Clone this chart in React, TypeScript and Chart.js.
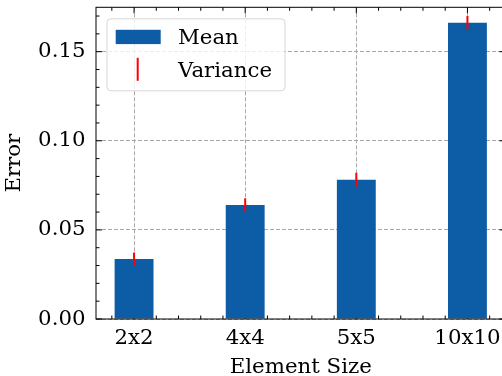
import React, { useEffect, useRef } from 'react';
import { Chart, registerables } from 'chart.js';

Chart.register(...registerables);

// ---- data ----
const categories = ['2x2', '4x4', '5x5', '10x10'];
const meanValues = [0.0337, 0.064, 0.0782, 0.1663];
const varianceValues = [0.0036, 0.0037, 0.0039, 0.0037];
const yTickValues = [0, 0.05, 0.1, 0.15];
const seriesLabels = ['Mean', 'Variance'];
const xTitle = 'Element Size';
const yTitle = 'Error';
const yMin = 0;
const yMax = 0.1749;
const xMin = -0.3425;
const xMax = 3.3425;

const FONT = "'DejaVu Serif', 'Liberation Serif', serif";
const FS = 21.3;
const BLUE = '#0C5DA5';
const RED = '#FF0000';

const framePlugin = {
  id: 'frame',
  beforeDatasetsDraw(chart: any) {
    const { ctx, chartArea: a, scales } = chart;
    const xs = scales.x;
    const ys = scales.y;
    ctx.save();
    ctx.strokeStyle = '#000';
    ctx.lineWidth = 1;
    ctx.beginPath();
    const nY = Math.floor(yMax / 0.01 + 1e-6);
    for (let k = 0; k <= nY; k++) {
      const v = k * 0.01;
      const len = k % 5 === 0 ? 6 : 3.5;
      const py = ys.getPixelForValue(v);
      ctx.moveTo(a.left, py);
      ctx.lineTo(a.left + len, py);
      ctx.moveTo(a.right, py);
      ctx.lineTo(a.right - len, py);
    }
    const k0 = Math.ceil(xMin / 0.2 - 1e-6);
    const k1 = Math.floor(xMax / 0.2 + 1e-6);
    for (let k = k0; k <= k1; k++) {
      const v = k * 0.2;
      const len = k % 5 === 0 ? 6 : 3.5;
      const px = xs.getPixelForValue(v);
      ctx.moveTo(px, a.bottom);
      ctx.lineTo(px, a.bottom - len);
      ctx.moveTo(px, a.top);
      ctx.lineTo(px, a.top + len);
    }
    ctx.stroke();
    ctx.restore();
  },
  afterDatasetsDraw(chart: any) {
    const { ctx, chartArea: a } = chart;
    ctx.save();
    ctx.strokeStyle = '#000';
    ctx.lineWidth = 1;
    ctx.strokeRect(a.left, a.top, a.right - a.left, a.bottom - a.top);

    const lx = a.left + 11;
    const ly = a.top + 11.5;
    const lw = 178;
    const lh = 72;
    const r = 4;
    ctx.beginPath();
    ctx.moveTo(lx + r, ly);
    ctx.lineTo(lx + lw - r, ly);
    ctx.quadraticCurveTo(lx + lw, ly, lx + lw, ly + r);
    ctx.lineTo(lx + lw, ly + lh - r);
    ctx.quadraticCurveTo(lx + lw, ly + lh, lx + lw - r, ly + lh);
    ctx.lineTo(lx + r, ly + lh);
    ctx.quadraticCurveTo(lx, ly + lh, lx, ly + lh - r);
    ctx.lineTo(lx, ly + r);
    ctx.quadraticCurveTo(lx, ly, lx + r, ly);
    ctx.closePath();
    ctx.fillStyle = 'rgba(255,255,255,0.8)';
    ctx.fill();
    ctx.strokeStyle = 'rgba(204,204,204,0.8)';
    ctx.lineWidth = 1;
    ctx.stroke();

    ctx.fillStyle = BLUE;
    ctx.fillRect(lx + 8.7, ly + 11, 45, 14.3);
    ctx.strokeStyle = RED;
    ctx.lineWidth = 2;
    ctx.beginPath();
    ctx.moveTo(lx + 30.7, ly + 39);
    ctx.lineTo(lx + 30.7, ly + 62);
    ctx.stroke();

    ctx.fillStyle = '#000';
    ctx.font = `${FS}px ${FONT}`;
    ctx.textBaseline = 'alphabetic';
    ctx.textAlign = 'left';
    ctx.fillText(seriesLabels[0], lx + 71, ly + 25.3);
    ctx.fillText(seriesLabels[1], lx + 71, ly + 58.3);
    ctx.restore();
  },
};

export default function App() {
  const ref = useRef<HTMLCanvasElement | null>(null);

  useEffect(() => {
    if (!ref.current) return;
    const chart = new Chart(ref.current, {
      type: 'bar',
      data: {
        datasets: [
          {
            label: seriesLabels[0],
            data: categories.map((_, i) => ({ x: i, y: meanValues[i] })),
            backgroundColor: BLUE,
            borderWidth: 0,
            grouped: false,
            categoryPercentage: 1,
            barPercentage: 0.35,
            order: 2,
          } as any,
          {
            label: seriesLabels[1],
            data: categories.map((_, i) => ({
              x: i,
              y: [meanValues[i] - varianceValues[i], meanValues[i] + varianceValues[i]],
            })),
            backgroundColor: RED,
            borderWidth: 0,
            grouped: false,
            categoryPercentage: 1,
            barPercentage: 0.35,
            maxBarThickness: 2,
            order: 1,
          } as any,
        ],
      },
      options: {
        responsive: false,
        maintainAspectRatio: false,
        animation: false,
        layout: { padding: { left: 0, top: 7.3, right: 6.5, bottom: 0 } },
        plugins: {
          legend: { display: false },
          tooltip: { enabled: false },
        },
        scales: {
          x: {
            type: 'linear',
            min: xMin,
            max: xMax,
            offset: false,
            afterBuildTicks: (scale: any) => {
              scale.ticks = categories.map((_, i) => ({ value: i }));
            },
            afterFit: (scale: any) => {
              scale.height = 57;
              scale.paddingLeft = 0;
              scale.paddingRight = 0;
              scale.paddingTop = 0;
              scale.paddingBottom = 0;
            },
            ticks: {
              autoSkip: false,
              maxRotation: 0,
              minRotation: 0,
              padding: 6.5,
              color: '#000',
              font: { family: FONT, size: FS },
              callback: (v: any) => categories[Math.round(Number(v))] ?? '',
            },
            grid: {
              offset: false,
              color: '#a8a8a8',
              lineWidth: 1,
              drawTicks: false,
              borderDash: [4, 2],
            } as any,
            border: { display: false, dash: [4, 2] },
            title: {
              display: true,
              text: xTitle,
              color: '#000',
              font: { family: FONT, size: FS, lineHeight: 0.8 },
              padding: { top: 0, bottom: 0 },
            },
          },
          y: {
            type: 'linear',
            min: yMin,
            max: yMax,
            afterBuildTicks: (scale: any) => {
              scale.ticks = yTickValues.map((v) => ({ value: v }));
            },
            afterFit: (scale: any) => {
              scale.width = 96;
              scale.paddingLeft = 0;
              scale.paddingRight = 0;
              scale.paddingTop = 0;
              scale.paddingBottom = 0;
            },
            ticks: {
              padding: 10.5,
              color: '#000',
              font: { family: FONT, size: FS },
              callback: (v: any) => Number(v).toFixed(2),
            },
            grid: {
              color: '#a8a8a8',
              lineWidth: 1,
              drawTicks: false,
              borderDash: [4, 2],
            } as any,
            border: { display: false, dash: [4, 2] },
            title: {
              display: true,
              text: yTitle,
              color: '#000',
              font: { family: FONT, size: FS, lineHeight: 1 },
              padding: { top: 4, bottom: 0 },
            },
          },
        },
      } as any,
      plugins: [framePlugin],
    });
    return () => chart.destroy();
  }, []);

  return (
    <div
      style={{
        position: 'absolute',
        left: 0,
        top: 0,
        width: 502,
        height: 376,
        overflow: 'hidden',
        background: '#fff',
      }}
    >
      <canvas ref={ref} width={512} height={376} style={{ display: 'block' }} />
    </div>
  );
}
